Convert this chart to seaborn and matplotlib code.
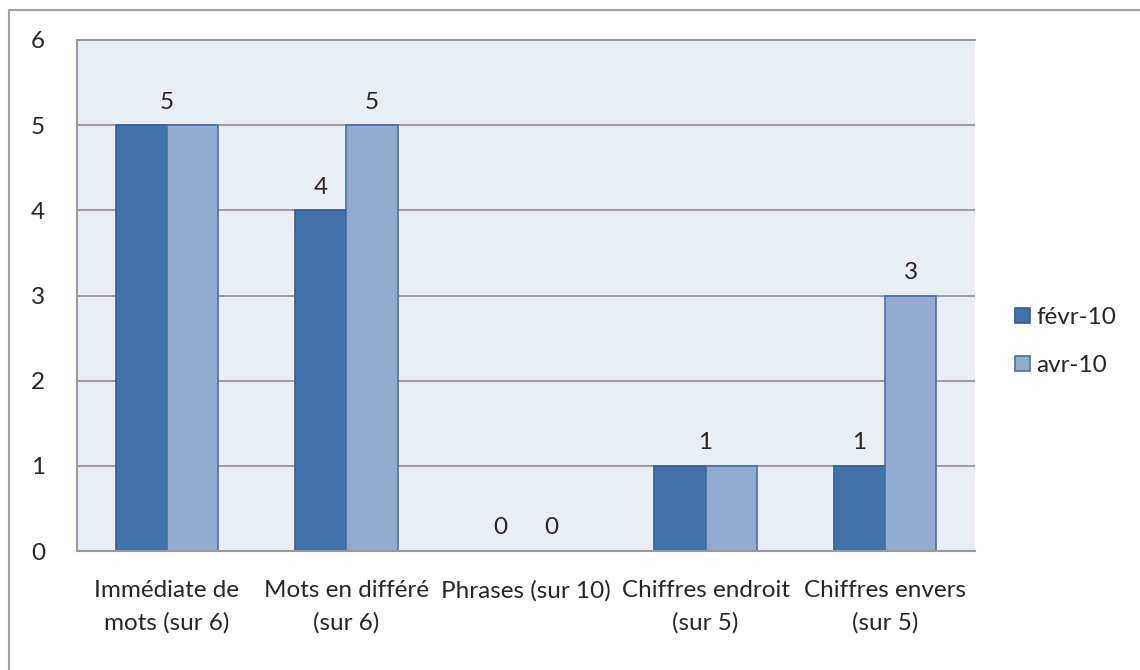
import numpy as np
import pandas as pd
import matplotlib.pyplot as plt
import seaborn as sns
from matplotlib.patches import Rectangle

# ---- data ----
categories = ["Immédiate de\nmots (sur 6)", "Mots en différé\n(sur 6)", "Phrases (sur 10)",
              "Chiffres endroit\n(sur 5)", "Chiffres envers\n(sur 5)"]
series_names = ["févr-10", "avr-10"]
fevr_values = [5, 4, 0, 1, 1]
avr_values = [5, 5, 0, 1, 3]
y_ticks = [0, 1, 2, 3, 4, 5, 6]

df = pd.DataFrame({
    "cat": categories * 2,
    "serie": [series_names[0]] * 5 + [series_names[1]] * 5,
    "val": fevr_values + avr_values,
})

sns.set_style("white")
plt.rcParams["font.family"] = ["Lato", "DejaVu Sans"]

txt = "#262626"
fs = 17.5
dark = "#4172A8"
light = "#93ABD1"
edges = {"févr-10": "#355E8E", "avr-10": "#4A70A2"}

fig = plt.figure(figsize=(11.4, 6.7), dpi=100)
ax = fig.add_axes([77 / 1140, 1 - 551 / 670, (975 - 77) / 1140, (551 - 40) / 670])

sns.barplot(data=df, x="cat", y="val", hue="serie", hue_order=series_names,
            palette=[dark, light], width=0.57, gap=0, saturation=1,
            linewidth=1.2, ax=ax)

for cont, name in zip(ax.containers, series_names):
    for p in cont:
        p.set_edgecolor(edges[name])

# data labels (equal non-zero pairs share one label, like the original)
dark_bars, light_bars = ax.containers[0], ax.containers[1]
for i, (a, b) in enumerate(zip(fevr_values, avr_values)):
    pa, pb = dark_bars[i], light_bars[i]
    if a == b and a > 0:
        spots = [(i, a)]
    else:
        spots = [(pa.get_x() + pa.get_width() / 2, a), (pb.get_x() + pb.get_width() / 2, b)]
    for x, v in spots:
        ax.annotate(f"{v}", (x, v), xytext=(0, 9), textcoords="offset points",
                    ha="center", va="bottom", fontsize=fs, color=txt)

ax.set_facecolor("#E9EDF4")
ax.set_ylim(0, 6)
ax.set_yticks(y_ticks)
ax.yaxis.grid(True, color="#8E8E8E", linewidth=1.2)
ax.set_axisbelow(True)
ax.set_xlabel("")
ax.set_ylabel("")
ax.tick_params(axis="y", length=0, pad=28, labelsize=fs, labelcolor=txt)
ax.tick_params(axis="x", length=0, pad=21, labelsize=fs, labelcolor=txt)
for lab in ax.get_yticklabels():
    lab.set_horizontalalignment("center")
for lab in ax.get_xticklabels():
    lab.set_linespacing(1.65)
for s in ["left", "top", "bottom"]:
    ax.spines[s].set_color("#9A9A9A")
    ax.spines[s].set_linewidth(1.5)
ax.spines["right"].set_visible(False)

leg = ax.legend(loc="center left", bbox_to_anchor=(1.045, 0.41), frameon=False,
                fontsize=fs, handlelength=0.6, handleheight=0.6, handletextpad=0.25,
                labelspacing=1.1, borderpad=0, borderaxespad=0, labelcolor=txt)
for h, name in zip(leg.legend_handles, series_names):
    h.set_edgecolor(edges[name])
    h.set_linewidth(1.2)

# outer chart border (top and left visible)
fig.patches.append(Rectangle((9 / 1140, -0.1), 1.2, 1 - 10 / 670 + 0.1, transform=fig.transFigure,
                             fill=False, edgecolor="#A0A0A0", linewidth=1.5))

fig.savefig("out.png", dpi=100)
